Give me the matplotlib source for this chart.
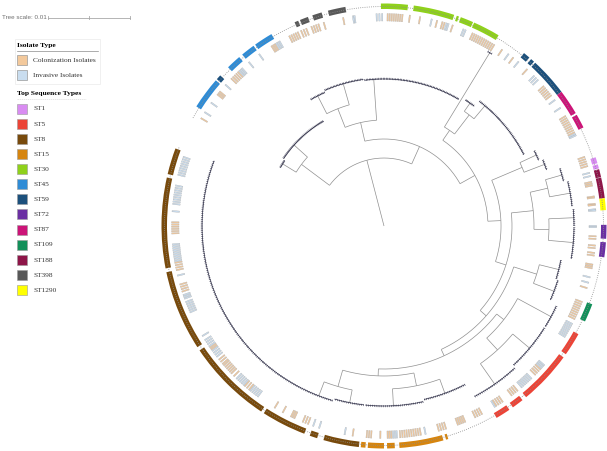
"""
Arvore filogenetica circular (estilo iTOL) com aneis de tipo de isolado e ST.
"""

import matplotlib

matplotlib.use("Agg")
import matplotlib.pyplot as plt
import numpy as np
from matplotlib.patches import Rectangle

################## Dados ##################

# escala da arvore: 0.01 substituicoes = 82 px
PX_PER_UNIT = 8200

# topologia (Newick), folhas = grupos densos de isolados
newick = (
    "(("
    "(c1:0.00195,c2:0.00220):0.00427,"
    "("
    "((c3a:0.00244,c3b:0.00268):0.00244,c4:0.00500):0.00232,"
    "("
    "(c5:0.01061,(c6a:0.00122,c6b:0.00207):0.00293):0.00146,"
    "("
    "(c7a:0.00220,c7b:0.00268):0.00402,"
    "("
    "((c8:0.00207,c9:0.00256):0.00220,(c10:0.00305,c11:0.00305):0.00183):0.00268,"
    "("
    "(c12a:0.00244,c12b:0.00268):0.00293,"
    "("
    "(c13:0.00463,(c14a:0.00268,c14b:0.00305):0.00195):0.00110,"
    "("
    "(c15:0.00183,c16:0.00207):0.00159,"
    "(c17a:0.00159,c17b:0.00183):0.00207"
    "):0.00085"
    "):0.00085"
    "):0.00098"
    "):0.00134"
    "):0.00159"
    "):0.00207"
    "):0.00232"
    "):0.00829);"
)

# angulos (graus, sentido horario a partir do topo, sem reiniciar em 360)
cluster_names = ["c1", "c2", "c3a", "c3b", "c4", "c5", "c6a", "c6b", "c7a", "c7b",
                 "c8", "c9", "c10", "c11", "c12a", "c12b", "c13", "c14a", "c14b",
                 "c15", "c16", "c17a", "c17b"]
cluster_start = [299.5, 304.0, 330.0, 336.5, 352.5, 390.8, 393.0, 397.5, 423.5, 427.5,
                 432.0, 436.5, 445.0, 450.5, 461.0, 467.5, 475.0, 482.5, 497.5,
                 513.0, 527.5, 546.5, 556.5]
cluster_end = [303.5, 330.0, 336.0, 352.0, 390.5, 392.0, 397.0, 423.0, 427.0, 431.0,
               436.0, 444.0, 450.0, 460.0, 467.0, 474.0, 482.0, 497.0, 512.0,
               527.0, 546.0, 556.0, 651.0]
cluster_attach = [301.5, 312.0, 333.0, 344.0, 356.0, 391.4, 395.0, 400.0, 425.0, 429.0,
                  434.0, 440.0, 447.5, 455.0, 464.0, 471.0, 478.5, 490.0, 505.0,
                  520.0, 537.0, 551.0, 561.0]
LEAF_STEP = 0.6

st_names = ["ST1", "ST5", "ST8", "ST15", "ST30", "ST45", "ST59", "ST72", "ST87",
            "ST109", "ST188", "ST398", "ST1290"]
st_colors = ["#d98cf2", "#ec4437", "#784a0c", "#d6850f", "#8fd11b", "#2f8cd6",
             "#1c507c", "#6b2fa3", "#cc1478", "#12905a", "#8e1548", "#585858",
             "#ffff00"]

seg_st = ["ST45", "ST59", "ST45", "ST45", "ST45",
          "ST398", "ST398", "ST398", "ST398",
          "ST30", "ST30", "ST30", "ST30", "ST30",
          "ST59", "ST59", "ST59", "ST87", "ST87",
          "ST1", "ST1", "ST188", "ST188", "ST1290", "ST72", "ST72", "ST109",
          "ST5", "ST5", "ST5", "ST5",
          "ST15", "ST15", "ST15", "ST15", "ST15",
          "ST8", "ST8", "ST8", "ST8", "ST8", "ST8", "ST8"]
seg_start = [302.5, 311.3, 315.5, 320.4, 324.6,
             336.3, 337.8, 341.2, 345.4,
             359.2, 367.7, 379.1, 380.2, 383.9,
             399.0, 401.4, 402.8, 412.9, 420.0,
             432.0, 433.9, 435.2, 437.4, 442.8, 449.7, 454.2, 470.6,
             479.1, 486.2, 501.5, 505.7,
             523.2, 524.5, 537.2, 540.0, 544.8,
             546.5, 557.5, 561.0, 573.5, 597.0, 619.0, 643.5]
seg_end = [310.9, 312.6, 319.4, 324.1, 329.6,
           337.3, 340.0, 343.7, 350.0,
           366.2, 378.4, 379.7, 383.6, 391.0,
           400.8, 402.4, 412.9, 419.5, 423.7,
           433.6, 435.0, 437.3, 442.8, 445.9, 453.3, 458.1, 475.4,
           485.2, 500.3, 504.6, 509.6,
           523.8, 536.0, 539.2, 544.2, 546.0,
           555.8, 559.5, 572.7, 596.0, 618.0, 642.6, 650.4]

iso_names = ["Colonization Isolates", "Invasive Isolates"]
iso_colors = ["#f3c99c", "#c9ddef"]
iso_type = ["C", "I", "I", "C", "I", "C", "I", "I", "I", "C", "I", "C", "C", "C",
            "C", "C", "I", "I", "C", "C", "C", "I", "C", "C", "I", "C", "I", "C",
            "C", "I", "C", "I", "C", "I", "C", "I", "I", "C", "I", "C", "I", "C",
            "C", "C", "I", "I", "C", "C", "C", "C", "I", "I", "C", "C", "I", "I",
            "C", "I", "C", "C", "I", "C", "C", "C", "I", "C", "I", "C", "C", "C",
            "C", "I", "I", "I", "C", "C", "C", "C", "I", "C", "I", "C", "C", "C",
            "I", "C", "I", "I", "I", "I", "C", "I", "C", "I", "C", "I", "I", "I"]
iso_start = [300.5, 302.4, 305.5, 308.3, 311.7, 314.0, 317.0, 320.5, 324.0, 328.0,
             329.5, 333.5, 337.0, 340.0, 343.5, 348.9, 351.6, 358.0, 361.0, 367.0,
             369.8, 373.0, 374.5, 376.0, 377.2, 378.9, 382.0, 384.7, 393.8, 395.9,
             397.5, 399.3, 402.4, 405.0, 408.8, 413.6, 416.2, 418.8, 424.3, 431.0,
             435.5, 438.0, 442.0, 444.0, 445.5, 450.0, 452.8, 455.3, 457.3, 460.5,
             464.0, 465.5, 467.0, 471.0, 477.5, 491.0, 492.5, 496.0, 501.0, 506.0,
             508.5, 512.5, 517.5, 523.0, 528.7, 530.0, 536.5, 538.0, 541.0, 543.5,
             548.5, 550.7, 557.8, 559.5, 561.0, 565.0, 568.5, 571.0, 576.5, 579.5,
             581.5, 585.0, 586.0, 589.5, 592.0, 594.5, 595.5, 598.8, 606.0, 610.0,
             612.0, 616.5, 618.0, 620.5, 628.0, 634.0, 636.0, 644.0]
iso_end = [300.5, 302.4, 305.5, 309.3, 311.7, 316.5, 318.0, 320.5, 324.0, 329.0,
           330.5, 336.0, 338.5, 342.0, 343.5, 348.9, 352.0, 359.5, 365.0, 367.0,
           369.8, 373.0, 374.5, 376.6, 377.7, 378.9, 382.6, 391.3, 393.8, 395.9,
           397.5, 399.3, 402.4, 406.5, 412.0, 413.6, 416.2, 423.8, 424.7, 433.6,
           436.4, 439.0, 442.3, 444.3, 445.8, 450.3, 453.5, 456.0, 458.0, 461.5,
           464.0, 465.5, 467.0, 476.0, 481.5, 492.0, 494.5, 499.5, 503.0, 508.0,
           508.5, 514.5, 519.6, 525.0, 528.7, 535.6, 537.5, 539.0, 541.0, 544.7,
           548.5, 550.7, 557.8, 559.5, 562.5, 566.0, 568.5, 571.0, 579.0, 581.0,
           584.0, 585.3, 589.0, 591.0, 594.0, 595.0, 597.5, 598.8, 609.0, 611.0,
           614.0, 616.8, 620.0, 625.0, 631.0, 634.0, 641.0, 649.0]


################## Arvore ##################

def ler_newick(texto):
    pos = 0

    def no():
        nonlocal pos
        filhos = []
        if texto[pos] == "(":
            pos += 1
            while True:
                filhos.append(no())
                if texto[pos] == ",":
                    pos += 1
                    continue
                pos += 1
                break
        nome = ""
        while texto[pos] not in ":,();":
            nome += texto[pos]
            pos += 1
        comp = 0.0
        if texto[pos] == ":":
            pos += 1
            inicio = pos
            while texto[pos] not in ",();":
                pos += 1
            comp = float(texto[inicio:pos])
        return {"nome": nome, "comp": comp, "filhos": filhos}

    return no()


faixas = {n: (a, b, c) for n, a, b, c in
          zip(cluster_names, cluster_start, cluster_end, cluster_attach)}


def posicionar(no, r_pai):
    no["r"] = r_pai + no["comp"] * PX_PER_UNIT
    if no["filhos"]:
        for f in no["filhos"]:
            posicionar(f, no["r"])
        no["ang"] = (no["filhos"][0]["ang"] + no["filhos"][-1]["ang"]) / 2
    else:
        no["ang"] = faixas[no["nome"]][2]


raiz = ler_newick(newick)
posicionar(raiz, 0.0)

W, H = 607, 451
fig = plt.figure(figsize=(W / 100, H / 100), dpi=100)

leg = fig.add_axes([0, 0, 1, 1])
leg.set_xlim(0, W)
leg.set_ylim(H, 0)
leg.axis("off")

cx, cy, R = 384, 226, 226
ax = fig.add_axes([(cx - R) / W, 1 - (cy + R) / H, 2 * R / W, 2 * R / H],
                  projection="polar")
ax.set_theta_zero_location("N")
ax.set_theta_direction(-1)
ax.set_ylim(0, R)
ax.axis("off")

GALHO = dict(color="#8f8f8f", lw=0.5, solid_capstyle="butt")
FOLHA = dict(color="#2e2e48", lw=0.5, solid_capstyle="butt")


def arco(a0, a1, r, **kw):
    n = max(2, int(abs(a1 - a0) * 3) + 2)
    t = np.deg2rad(np.linspace(a0, a1, n))
    ax.plot(t, np.full(n, r), **kw)


def desenhar(no):
    if no["filhos"]:
        angs = [f["ang"] for f in no["filhos"]]
        if no["r"] > 0:
            arco(min(angs), max(angs), no["r"], **GALHO)
        for f in no["filhos"]:
            t = np.deg2rad(f["ang"])
            ax.plot([t, t], [no["r"], f["r"]], **GALHO)
            desenhar(f)
    else:
        a, b, c = faixas[no["nome"]]
        arco(a, b, no["r"], **FOLHA)
        folhas = np.deg2rad(np.arange(a, b + 0.01, LEAF_STEP))
        for t in folhas:
            ax.plot([t, t], [no["r"] - 0.6, no["r"] + 1.0], color="#26263e",
                    lw=0.35)


desenhar(raiz)

################## Aneis ##################

# linha pontilhada de alinhamento sob o anel de ST
arco(cluster_start[0], cluster_end[-1], 219.5, color="#8c8c8c", lw=0.6,
     linestyle=(0, (1, 1.6)))

cor_st = dict(zip(st_names, st_colors))
for st, a, b in zip(seg_st, seg_start, seg_end):
    ax.bar(np.deg2rad((a + b) / 2), 5.5, width=np.deg2rad(b - a), bottom=217,
           color=cor_st[st], linewidth=0)

cor_iso = {"C": iso_colors[0], "I": iso_colors[1]}
for tp, a, b in zip(iso_type, iso_start, iso_end):
    n = int(round((b - a) / LEAF_STEP)) + 1
    angs = np.linspace(a, b, n) if n > 1 else np.array([a])
    ax.bar(np.deg2rad(angs), 7.5, width=np.deg2rad(0.36), bottom=205,
           color=cor_iso[tp], edgecolor="#a6a6a6", linewidth=0.22)

################## Legenda ##################

serif = "Liberation Serif"
leg.text(2, 17.5, "Tree scale: 0.01", fontsize=4.5, color="#707070",
         family="Liberation Sans", va="center")
x0 = 48
x1 = x0 + 0.01 * PX_PER_UNIT
leg.plot([x0, x1], [17.5, 17.5], color="#a8a8a8", lw=0.6)
for xt in [x0, (x0 + x1) / 2, x1]:
    leg.plot([xt, xt], [15.8, 19.2], color="#a8a8a8", lw=0.6)

leg.add_patch(Rectangle((15, 39), 85, 45, fill=False, edgecolor="#eeeeee", lw=0.6))
leg.text(17, 45.5, "Isolate Type", fontsize=5.4, fontweight="bold",
         family=serif, va="center")
leg.plot([17, 98], [51, 51], color="#8c8c8c", lw=0.5)
for i, (nome, cor) in enumerate(zip(iso_names, iso_colors)):
    y = 60 + i * 15
    leg.add_patch(Rectangle((17.3, y - 5), 10, 10, facecolor=cor,
                            edgecolor="#9a9a9a", lw=0.5))
    leg.text(33, y + 0.3, nome, fontsize=5.3, family=serif, va="center",
             color="#333333")

leg.text(17, 93.5, "Top Sequence Types", fontsize=5.4, fontweight="bold",
         family=serif, va="center")
leg.plot([17, 86], [98.5, 98.5], color="#dddddd", lw=0.5, linestyle=(0, (2, 1)))
for i, (nome, cor) in enumerate(zip(st_names, st_colors)):
    y = 108.7 + i * 15.1
    leg.add_patch(Rectangle((17.3, y - 5), 10, 10, facecolor=cor,
                            edgecolor="#9a9a9a", lw=0.4))
    leg.text(33, y + 0.3, nome, fontsize=5.3, family=serif, va="center",
             color="#333333")

fig.savefig("out.png", dpi=100)
plt.close(fig)
